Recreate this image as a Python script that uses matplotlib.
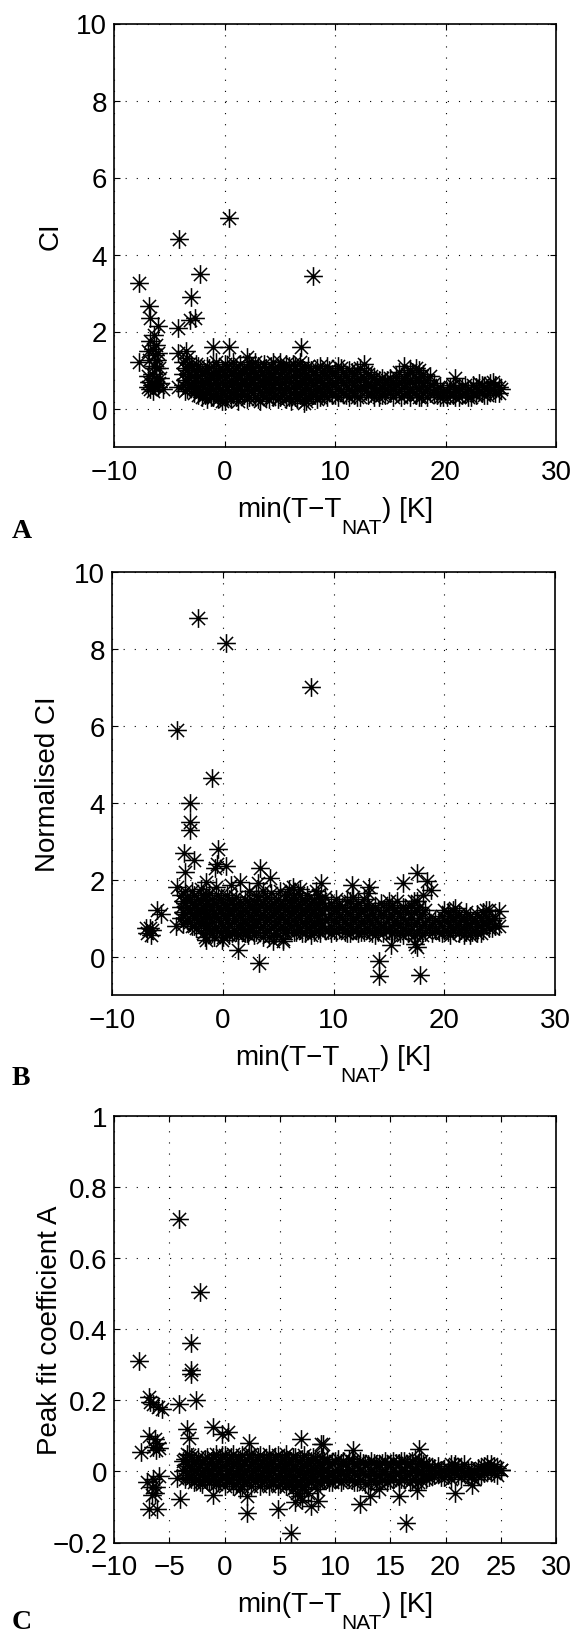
import matplotlib
matplotlib.use('Agg')
import matplotlib.pyplot as plt
from matplotlib.path import Path

plt.rcParams['font.family'] = ['Liberation Sans', 'DejaVu Sans']

# ---------------- data ----------------
# Panel A : CI
a_x = [-7.7, -7.7, -6.8, -6.7, -6.0, -6.7, -6.5, -6.2, -6.3, -6.1, -5.9, -6.4, -6.6, -6.8, -6.7,
       -6.5, -6.3, -6.0, -5.6, -6.2, -6.6, -6.9, -6.9, -6.4, -6.0, -5.8, -6.9, -6.2, -5.9, -6.8,
       -4.1, 0.4, 8.0, -2.2, -3.0, -3.1, -2.7, -4.2, -3.5, -4.2, -1.0, 0.4, 6.9, 2.0, -4.2]
a_y = [3.25, 1.2, 2.65, 2.35, 2.15, 1.75, 1.55, 1.65, 1.4, 1.25, 1.05, 1.1, 0.9, 0.7, 0.5,
       0.45, 0.6, 0.55, 0.5, 0.8, 0.6, 0.55, 1.5, 1.9, 1.45, 0.8, 0.85, 1.05, 0.65, 1.25,
       4.4, 4.95, 3.45, 3.5, 2.9, 2.3, 2.35, 2.1, 1.5, 1.45, 1.6, 1.6, 1.6, 1.35, 0.55]
a_band_x = [-3.8, -3.4, -3.0, -2.6, -2.2, -1.8, -1.4, -1.0, -0.6, -0.2, 0.2, 0.6, 1.0, 1.4, 1.8,
            2.2, 2.6, 3.0, 3.4, 3.8, 4.2, 4.6, 5.0, 5.4, 5.8, 6.2, 6.6, 7.0, 7.4, 7.8, 8.2, 8.6,
            9.0, 9.5, 10.0, 10.5, 11.0, 11.5, 12.0, 12.6, 13.0, 13.5, 14.0, 14.5, 15.0, 15.5,
            16.2, 16.5, 17.0, 17.6, 18.0, 18.6, 19.2, 19.8, 20.4, 20.9, 21.5, 22.0, 22.5, 23.0,
            23.5, 24.0, 24.5, 25.0]
a_band_y = [[1.2, 0.9, 0.6], [1.3, 1.0, 0.7, 0.5], [1.1, 0.85, 0.55], [1.15, 0.8, 0.5],
            [1.0, 0.7, 0.45], [0.95, 0.65, 0.35], [1.05, 0.75, 0.4], [1.1, 0.8, 0.5, 0.3],
            [0.95, 0.6, 0.25], [1.0, 0.7, 0.4, 0.2], [1.1, 0.85, 0.55, 0.3], [0.9, 0.6, 0.25],
            [1.05, 0.75, 0.45, 0.3], [1.15, 0.8, 0.5], [0.95, 0.65, 0.35], [1.2, 0.9, 0.6, 0.3],
            [1.0, 0.7, 0.4], [1.1, 0.85, 0.55, 0.25], [0.95, 0.65, 0.35], [1.05, 0.75, 0.45, 0.3],
            [1.1, 0.8, 0.5], [1.0, 0.7, 0.35], [1.2, 0.9, 0.6, 0.3], [1.0, 0.7, 0.4],
            [1.1, 0.8, 0.5, 0.3], [1.15, 0.85, 0.55], [1.0, 0.7, 0.4, 0.25], [1.05, 0.75, 0.45],
            [0.9, 0.6, 0.3, 0.2], [1.0, 0.7, 0.4], [0.95, 0.65, 0.35], [1.1, 0.8, 0.5, 0.3],
            [0.9, 0.6, 0.35], [1.0, 0.7, 0.45], [0.95, 0.65, 0.35], [1.05, 0.75, 0.45],
            [0.85, 0.6, 0.35], [0.95, 0.7, 0.45], [1.0, 0.75, 0.5, 0.3], [1.15, 0.8, 0.55],
            [0.9, 0.6, 0.35], [0.8, 0.55, 0.3], [0.75, 0.5, 0.3], [0.7, 0.5, 0.35],
            [0.8, 0.6, 0.4], [0.85, 0.6, 0.4], [1.1, 0.8, 0.55, 0.35], [0.9, 0.65, 0.4],
            [0.95, 0.7, 0.45], [1.0, 0.75, 0.5, 0.3], [0.9, 0.65, 0.4], [0.85, 0.6, 0.4],
            [0.5, 0.35], [0.45, 0.3], [0.55, 0.35], [0.8, 0.5, 0.3], [0.55, 0.35], [0.5, 0.3],
            [0.6, 0.4], [0.65, 0.45], [0.55, 0.35], [0.65, 0.45], [0.6, 0.4], [0.5]]
a_band2_x = [-3.6, -3.2, -2.8, -2.4, -2.0, -1.6, -1.2, -0.8, -0.4, 0.0, 0.4, 0.8, 1.2, 1.6, 2.0,
             2.4, 2.8, 3.2, 3.6, 4.0, 4.4, 4.8, 5.2, 5.6, 6.0, 6.4, 6.8, 7.2, 7.6, 8.0, 8.4, 8.8,
             9.25, 9.75, 10.25, 10.75, 11.25, 11.75, 12.3, 12.8, 13.25, 13.75, 14.25, 14.75,
             15.25, 15.75, 16.0, 16.75, 17.3, 17.8, 18.3, 19.0, 19.5, 20.1, 20.7, 21.2, 21.8,
             22.3, 22.8, 23.3, 23.8, 24.3, 24.8]
a_band2_y = [[1.05, 0.75, 0.45], [1.15, 0.9, 0.6], [1.0, 0.7, 0.4], [1.1, 0.85, 0.55, 0.35],
             [0.9, 0.6, 0.3], [1.1, 0.8, 0.5, 0.25], [0.9, 0.6, 0.3], [1.2, 0.95, 0.65, 0.4],
             [0.85, 0.5, 0.3], [1.15, 0.9, 0.6, 0.35, 0.2], [1.0, 0.7, 0.45],
             [1.2, 0.95, 0.65, 0.4], [0.9, 0.6, 0.35, 0.2], [1.0, 0.7, 0.4],
             [1.05, 0.8, 0.5, 0.25], [1.1, 0.75, 0.45], [1.2, 0.9, 0.6, 0.3],
             [1.0, 0.7, 0.45, 0.2], [1.15, 0.85, 0.55], [0.95, 0.65, 0.4, 0.25],
             [1.2, 0.9, 0.6, 0.3], [1.05, 0.8, 0.5, 0.25], [0.95, 0.65, 0.35],
             [1.15, 0.85, 0.55, 0.25], [1.0, 0.7, 0.4, 0.2], [1.1, 0.8, 0.5, 0.3],
             [1.2, 0.9, 0.6, 0.35], [1.0, 0.7, 0.4, 0.15], [1.1, 0.8, 0.5, 0.3], [0.9, 0.6, 0.35],
             [1.05, 0.75, 0.45, 0.25], [0.95, 0.65, 0.4], [1.1, 0.85, 0.55, 0.3], [0.9, 0.6, 0.35],
             [1.1, 0.8, 0.5, 0.3], [0.95, 0.7, 0.4], [1.0, 0.75, 0.5, 0.3], [0.9, 0.6, 0.35],
             [1.05, 0.8, 0.55, 0.3], [0.95, 0.7, 0.45], [0.85, 0.6, 0.4], [0.7, 0.45],
             [0.8, 0.55, 0.35], [0.75, 0.5], [0.7, 0.5, 0.3], [0.95, 0.7, 0.45], [0.65, 0.3],
             [1.0, 0.75, 0.5, 0.3], [1.05, 0.8, 0.55, 0.35], [0.85, 0.55, 0.3], [0.75, 0.5, 0.3],
             [0.65, 0.4], [0.55, 0.3], [0.45, 0.3], [0.6, 0.35], [0.5, 0.3], [0.6, 0.4],
             [0.45, 0.3], [0.55, 0.35], [0.6, 0.4], [0.5, 0.35], [0.7, 0.5], [0.55, 0.4]]

# Panel B : Normalised CI
b_x = [-2.2, 0.3, 8.0, -4.1, -1.0, -3.0, -3.0, -3.0, -3.5, -2.6, -0.4, -0.5, 0.3, -0.7, 3.4,
       4.3, 1.6, -1.5, -3.4, -4.1, 8.9, 11.7, 13.2, 13.1, 16.3, 17.5, 18.4, 18.8, 15.0, 17.5,
       18.1, 14.1, 14.1, 17.8, 17.5, 17.4, 15.2, 3.3, 1.4, -1.5, -0.1, -4.2, -5.9, -5.6, -6.8,
       -6.6, -6.4, -6.9, -6.5, 23.8, 24.9, 24.9, 6.3, 7.0, 0.7, 4.5, 5.4, 2.3]
b_y = [8.8, 8.15, 7.02, 5.9, 4.65, 3.98, 3.5, 3.3, 2.7, 2.5, 2.8, 2.4, 2.35, 2.3, 2.3,
       2.05, 1.95, 1.95, 2.2, 1.8, 1.92, 1.87, 1.8, 1.65, 1.9, 2.18, 1.96, 1.74, 1.45, 1.44,
       1.6, -0.12, -0.5, -0.47, 0.25, 0.32, 0.3, -0.16, 0.18, 0.44, 0.44, 0.8, 1.2, 1.1, 0.6,
       0.75, 0.7, 0.75, 0.55, 1.22, 1.18, 0.79, 1.8, 1.75, 1.85, 0.4, 0.4, 0.55]
b_band_x = [-3.8, -3.4, -3.0, -2.6, -2.2, -1.8, -1.4, -1.0, -0.6, -0.2, 0.2, 0.6, 1.0, 1.4, 1.8,
            2.2, 2.6, 3.0, 3.4, 3.8, 4.2, 4.6, 5.0, 5.4, 5.8, 6.2, 6.6, 7.0, 7.4, 7.8, 8.2, 8.6,
            9.0, 9.5, 10.0, 10.5, 11.0, 11.5, 12.0, 12.5, 13.0, 13.5, 14.0, 14.5, 15.0, 15.5,
            16.0, 16.5, 17.0, 17.5, 18.0, 18.6, 19.2, 19.8, 20.3, 20.8, 21.3, 21.8, 22.3, 22.8,
            23.3, 23.8, 24.3]
b_band_y = [[1.6, 1.3, 1.0], [1.7, 1.4, 1.1], [1.5, 1.2, 0.9], [1.6, 1.3, 1.0, 0.8],
            [1.5, 1.2, 0.9], [1.6, 1.3, 1.0, 0.6], [1.4, 1.1, 0.8], [1.5, 1.2, 0.9, 0.6],
            [1.8, 1.4, 1.1, 0.7], [1.5, 1.2, 0.9, 0.6], [1.3, 1.0, 0.7], [1.5, 1.2, 0.85, 0.55],
            [1.3, 1.0, 0.7], [1.4, 1.1, 0.8, 0.55], [1.2, 0.9, 0.65], [1.45, 1.15, 0.85, 0.6],
            [1.3, 1.0, 0.7], [1.6, 1.25, 0.95, 0.65], [1.35, 1.05, 0.75], [1.5, 1.2, 0.9, 0.6],
            [1.3, 1.0, 0.5], [1.4, 1.1, 0.8, 0.55], [1.5, 1.2, 0.9], [1.3, 1.0, 0.7, 0.45],
            [1.6, 1.25, 0.95, 0.7], [1.4, 1.1, 0.8], [1.5, 1.2, 0.9, 0.65], [1.3, 1.0, 0.7],
            [1.45, 1.15, 0.85, 0.6], [1.35, 1.05, 0.75], [1.5, 1.2, 0.9, 0.65], [1.6, 1.3, 1.0, 0.7],
            [1.4, 1.1, 0.8], [1.3, 1.0, 0.7], [1.25, 0.95, 0.7], [1.35, 1.05, 0.75],
            [1.2, 0.9, 0.65], [1.45, 1.1, 0.8, 0.6], [1.3, 1.0, 0.7], [1.2, 0.9, 0.65],
            [1.35, 1.05, 0.75], [1.1, 0.85, 0.6], [1.2, 0.9, 0.65], [1.1, 0.8, 0.6],
            [1.3, 1.0, 0.7], [1.2, 0.9, 0.65], [1.1, 0.85, 0.6], [1.25, 0.95, 0.7],
            [1.35, 1.0, 0.7], [1.2, 0.9, 0.6], [1.1, 0.8, 0.55], [1.0, 0.75], [0.95, 0.7],
            [1.05, 0.8, 0.6], [1.15, 0.9, 0.65], [1.2, 0.95, 0.7], [1.1, 0.85, 0.6],
            [1.0, 0.75, 0.55], [1.05, 0.8, 0.55], [0.95, 0.7], [1.0, 0.8, 0.6], [1.05, 0.85],
            [0.95, 0.75]]
b_band2_x = [-3.6, -3.2, -2.8, -2.4, -2.0, -1.6, -1.2, -0.8, -0.4, 0.0, 0.4, 0.8, 1.2, 1.6, 2.0,
             2.4, 2.8, 3.2, 3.6, 4.0, 4.4, 4.8, 5.2, 5.6, 6.0, 6.4, 6.8, 7.2, 7.6, 8.0, 8.4, 8.8,
             9.25, 9.75, 10.25, 10.75, 11.25, 11.75, 12.25, 12.75, 13.25, 13.75, 14.25, 14.75,
             15.25, 15.75, 16.25, 16.75, 17.25, 17.75, 18.25, 18.9, 19.5, 20.0, 20.5, 21.0, 21.5,
             22.0, 22.5, 23.0, 23.5, 24.0, 24.6]
b_band2_y = [[1.45, 1.15, 0.85], [1.55, 1.25, 0.95], [1.7, 1.4, 1.1, 0.8], [1.35, 1.05, 0.75],
             [1.75, 1.45, 1.15, 0.85], [1.5, 1.2, 0.9, 0.5], [1.65, 1.35, 1.0, 0.7],
             [1.4, 1.05, 0.75, 0.5], [1.6, 1.3, 1.0], [1.4, 1.1, 0.8, 0.5],
             [1.6, 1.35, 1.05, 0.75], [1.4, 1.1, 0.6], [1.55, 1.25, 0.95, 0.65],
             [1.35, 1.05, 0.75], [1.5, 1.2, 0.9, 0.6], [1.7, 1.35, 1.05, 0.8],
             [1.45, 1.15, 0.85, 0.55], [1.9, 1.5, 1.2, 0.9], [1.7, 1.4, 1.1, 0.8, 0.5],
             [1.55, 1.25, 0.95, 0.7], [1.65, 1.35, 1.05, 0.75], [1.45, 1.15, 0.85, 0.6],
             [1.7, 1.35, 1.05, 0.75], [1.5, 1.2, 0.9, 0.6], [1.75, 1.45, 1.15, 0.85],
             [1.55, 1.25, 0.95, 0.65], [1.65, 1.35, 1.05, 0.8], [1.5, 1.2, 0.9, 0.6],
             [1.6, 1.3, 1.0, 0.75], [1.4, 1.1, 0.8, 0.55], [1.7, 1.4, 1.1, 0.85],
             [1.5, 1.2, 0.9, 0.6], [1.55, 1.25, 0.95, 0.7], [1.4, 1.1, 0.8, 0.6],
             [1.5, 1.2, 0.9, 0.65], [1.3, 1.0, 0.75], [1.45, 1.15, 0.85, 0.6],
             [1.55, 1.25, 0.95, 0.7], [1.4, 1.1, 0.8, 0.6], [1.5, 1.2, 0.9, 0.65],
             [1.25, 0.95, 0.7], [1.3, 1.0, 0.75, 0.55], [1.4, 1.1, 0.8], [1.2, 0.9, 0.7],
             [1.35, 1.05, 0.8, 0.6], [1.45, 1.15, 0.85], [1.3, 1.0, 0.75, 0.55], [1.15, 0.85, 0.6],
             [1.45, 1.15, 0.85, 0.55], [1.3, 1.0, 0.7], [1.2, 0.9, 0.65], [0.85, 0.6], [0.9, 0.65],
             [1.2, 0.95, 0.7], [1.05, 0.8, 0.55], [1.25, 1.0, 0.75], [0.95, 0.7], [1.15, 0.9, 0.65],
             [0.9, 0.65], [1.1, 0.85, 0.6], [1.15, 0.9, 0.7], [1.2, 0.95, 0.75], [1.0, 0.8]]

# Panel C : Peak fit coefficient A
c_x = [-4.1, -2.2, -3.0, -3.0, -3.05, -2.6, -4.1, -7.7, -6.8, -6.7, -6.5, -6.0, -5.7, -6.8,
       -6.1, -5.9, -7.6, -6.2, -3.4, -3.2, -1.0, 0.3, -0.2, -1.0, -4.0, -6.8, -6.1, -7.0, -6.6,
       -6.3, -6.5, -5.9, -4.3, 2.0, 2.0, 4.8, 6.0, 6.9, 8.9, 11.6, 17.6, 20.9, 22.4, 16.4, 15.8,
       12.3, 13.2, 14.0, 17.4, 8.5, 7.8, 7.0, 6.4, 1.4, 2.2, 8.7, 20.9, 25.0, -6.6, -6.2, -6.5,
       -6.3]
c_y = [0.71, 0.505, 0.36, 0.285, 0.275, 0.2, 0.19, 0.31, 0.21, 0.195, 0.19, 0.18, 0.175, 0.1,
       0.08, 0.065, 0.055, 0.06, 0.12, 0.095, 0.125, 0.11, 0.105, -0.065, -0.078, -0.107, -0.107,
       -0.03, -0.045, -0.06, -0.02, -0.012, -0.018, -0.117, -0.07, -0.107, -0.172, 0.09, 0.078,
       0.06, 0.063, -0.062, -0.037, -0.145, -0.068, -0.092, -0.068, -0.05, -0.052, -0.083,
       -0.097, -0.08, -0.085, -0.05, 0.08, 0.077, 0.02, 0.004, -0.065, -0.045, 0.07, 0.09]
c_band_x = [-3.8, -3.4, -3.0, -2.6, -2.2, -1.8, -1.4, -1.0, -0.6, -0.2, 0.2, 0.6, 1.0, 1.4, 1.8,
            2.2, 2.6, 3.0, 3.4, 3.8, 4.2, 4.6, 5.0, 5.4, 5.8, 6.2, 6.6, 7.0, 7.4, 7.8, 8.2, 8.6,
            9.0, 9.5, 10.0, 10.5, 11.0, 11.5, 12.0, 12.5, 13.0, 13.5, 14.0, 14.5, 15.0, 15.5,
            16.0, 16.5, 17.0, 17.5, 18.0, 18.5, 19.0, 19.6, 20.2, 20.8, 21.4, 22.0, 22.6, 23.2,
            23.8, 24.4, 25.0]
c_band_y = [[0.03, 0.0], [0.05, 0.02, -0.01], [0.04, 0.01, -0.02], [0.03, 0.0, -0.025],
            [0.02, -0.01, -0.03], [0.035, 0.005, -0.02], [0.025, -0.005, -0.03], [0.04, 0.01, -0.02],
            [0.03, 0.0, -0.03], [0.045, 0.015, -0.015], [0.03, 0.0, -0.025], [0.04, 0.01, -0.02],
            [0.025, -0.005, -0.035], [0.035, 0.005, -0.02], [0.03, 0.0, -0.03],
            [0.045, 0.015, -0.015], [0.03, 0.0, -0.025], [0.04, 0.01, -0.02],
            [0.025, -0.005, -0.03], [0.035, 0.005, -0.02], [0.03, 0.0, -0.03], [0.04, 0.01, -0.02],
            [0.025, -0.005, -0.035], [0.035, 0.005, -0.02], [0.03, 0.0, -0.03],
            [0.04, 0.01, -0.025, -0.05], [0.03, 0.0, -0.03, -0.06], [0.035, 0.005, -0.02, -0.05],
            [0.025, -0.005, -0.035], [0.03, 0.0, -0.03], [0.035, 0.005, -0.02],
            [0.025, -0.005, -0.03], [0.03, 0.0, -0.025], [0.02, -0.01, -0.03], [0.03, 0.0, -0.02],
            [0.025, -0.005, -0.03], [0.02, -0.01], [0.03, 0.0, -0.025], [0.02, -0.01, -0.03],
            [0.025, -0.005], [0.02, -0.01, -0.035], [0.025, -0.005], [0.02, -0.01, -0.03],
            [0.03, 0.0], [0.02, -0.01, -0.025], [0.025, -0.005], [0.03, 0.0, -0.02], [0.02, -0.01],
            [0.03, 0.0, -0.025], [0.025, -0.005, -0.03], [0.02, -0.01], [0.015, -0.015],
            [0.01, -0.01], [0.005, -0.015], [0.01, -0.01], [0.015, -0.005], [0.01, -0.015],
            [0.005, -0.01], [0.0, -0.02], [0.01, -0.01], [0.02, 0.0], [0.015, -0.005], [0.005]]
c_band2_x = [-3.6, -3.2, -2.8, -2.4, -2.0, -1.6, -1.2, -0.8, -0.4, 0.0, 0.4, 0.8, 1.2, 1.6, 2.0,
             2.4, 2.8, 3.2, 3.6, 4.0, 4.4, 4.8, 5.2, 5.6, 6.0, 6.4, 6.8, 7.2, 7.6, 8.0, 8.4, 8.8,
             9.25, 9.75, 10.25, 10.75, 11.25, 11.75, 12.25, 12.75, 13.25, 13.75, 14.25, 14.75,
             15.25, 15.75, 16.25, 16.75, 17.25, 17.75, 18.25, 18.75, 19.3, 19.9, 20.5, 21.1, 21.7,
             22.3, 22.9, 23.5, 24.1, 24.7]
c_band2_y = [[0.035, 0.005, -0.02], [0.045, 0.015, -0.015], [0.03, 0.0, -0.03],
             [0.04, 0.01, -0.02], [0.025, -0.005, -0.035], [0.04, 0.01, -0.02],
             [0.03, 0.0, -0.025], [0.05, 0.02, -0.01, -0.035], [0.035, 0.005, -0.025],
             [0.045, 0.015, -0.015, -0.04], [0.035, 0.005, -0.025], [0.05, 0.02, -0.01, -0.04],
             [0.03, 0.0, -0.03], [0.045, 0.015, -0.015, -0.04], [0.035, 0.005, -0.025],
             [0.05, 0.02, -0.01, -0.04], [0.03, 0.0, -0.03], [0.045, 0.015, -0.015, -0.04],
             [0.035, 0.005, -0.025], [0.05, 0.02, -0.01, -0.04], [0.03, 0.0, -0.03],
             [0.045, 0.015, -0.015, -0.04], [0.035, 0.005, -0.025], [0.05, 0.02, -0.01, -0.04],
             [0.03, 0.0, -0.03], [0.04, 0.01, -0.02, -0.045], [0.03, 0.0, -0.035, -0.07],
             [0.045, 0.015, -0.015, -0.045], [0.035, 0.005, -0.025, -0.06], [0.04, 0.01, -0.02],
             [0.03, 0.0, -0.03, -0.05], [0.04, 0.01, -0.02], [0.035, 0.005, -0.02],
             [0.025, -0.005, -0.03], [0.035, 0.005, -0.02], [0.03, 0.0, -0.025],
             [0.035, 0.005, -0.02], [0.025, -0.005, -0.03], [0.03, 0.0, -0.025],
             [0.02, -0.01, -0.035], [0.03, 0.0, -0.025], [0.02, -0.01, -0.03],
             [0.025, -0.005, -0.025], [0.02, -0.01, -0.03], [0.03, 0.0, -0.02],
             [0.025, -0.005, -0.03], [0.03, 0.0, -0.02], [0.025, -0.005, -0.03],
             [0.035, 0.005, -0.02], [0.03, 0.0, -0.025], [0.02, -0.01, -0.02], [0.01, -0.01],
             [0.015, -0.005], [0.005, -0.015], [0.02, 0.0, -0.02], [0.01, -0.01], [0.02, -0.005],
             [0.005, -0.015], [0.01, -0.01], [0.015, -0.005], [0.02, 0.0], [0.01, -0.01]]

xticks_ab = [-10, 0, 10, 20, 30]
xticks_c = [-10, -5, 0, 5, 10, 15, 20, 25, 30]
yticks_ab = [0, 2, 4, 6, 8, 10]
yticks_c = [-0.2, 0, 0.2, 0.4, 0.6, 0.8, 1.0]
yticklabels_c = ['\u22120.2', '0', '0.2', '0.4', '0.6', '0.8', '1']
ylabels = ['CI', 'Normalised CI', 'Peak fit coefficient A']
xlabel_parts = ['min(T\u2212T', 'NAT', ') [K]']
letters = ['A', 'B', 'C']

# ---------------- drawing ----------------
W, H = 575, 1633
fig = plt.figure(figsize=(W / 100, H / 100), dpi=100)

d = 0.7
star = Path([(-1, 0), (1, 0), (0, -1), (0, 1), (-d, -d), (d, d), (-d, d), (d, -d)],
            [Path.MOVETO, Path.LINETO] * 4)


def expand(bx, by):
    xs, ys = [], []
    for x, col in zip(bx, by):
        for y in col:
            xs.append(x)
            ys.append(y)
    return xs, ys


def make_axes(left, top, right, bottom):
    return fig.add_axes([left / W, 1 - bottom / H, (right - left) / W, (bottom - top) / H])


boxes = [(114, 24.5, 556, 448), (112, 573, 555, 996), (114, 1117, 556, 1543.5)]
panels = [(a_x, a_y, a_band_x, a_band_y, a_band2_x, a_band2_y),
          (b_x, b_y, b_band_x, b_band_y, b_band2_x, b_band2_y),
          (c_x, c_y, c_band_x, c_band_y, c_band2_x, c_band2_y)]
letter_base = [538, 1085, 1629]
label_parts = []

for i, (box, (px, py, bx, by, bx2, by2)) in enumerate(zip(boxes, panels)):
    ax = make_axes(*box)
    hpx = box[3] - box[1]
    ex, ey = expand(bx, by)
    ex2, ey2 = expand(bx2, by2)
    ax.plot(ex + ex2 + px, ey + ey2 + py, linestyle='none', marker=star, markersize=13.5,
            markeredgecolor='k', markerfacecolor='none', markeredgewidth=1.1, zorder=3)
    ax.set_xlim(-10, 30)
    if i < 2:
        ax.set_ylim(-1, 10)
        ax.set_xticks(xticks_ab)
        ax.set_xticklabels(['\u221210', '0', '10', '20', '30'])
        ax.set_yticks(yticks_ab)
        ax.set_yticklabels([str(v) for v in yticks_ab])
    else:
        ax.set_ylim(-0.2, 1.0)
        ax.set_xticks(xticks_c)
        ax.set_xticklabels([('\u2212' + str(-v)) if v < 0 else str(v) for v in xticks_c])
        ax.set_yticks(yticks_c)
        ax.set_yticklabels(yticklabels_c)
    ax.grid(True, color='k', linestyle=(0, (1, 9)), linewidth=0.8)
    ax.tick_params(direction='in', top=True, right=True, length=4, width=0.8,
                   labelsize=20, colors='k')
    ax.tick_params(axis='x', pad=8.5)
    ax.tick_params(axis='y', pad=5)
    for s in ax.spines.values():
        s.set_linewidth(1.2)
    ax.set_ylabel(ylabels[i], fontsize=20)
    ax.yaxis.set_label_coords(-0.115, 0.5)

    # x label built from pieces so that the subscript sits low like the original
    t1 = ax.text(0.3, -69 / hpx, xlabel_parts[0], transform=ax.transAxes, fontsize=20,
                 ha='left', va='baseline')
    t2 = ax.annotate(xlabel_parts[1], xy=(1, 0), xycoords=t1, xytext=(0, -7.6),
                     textcoords='offset points', fontsize=15, ha='left', va='baseline')
    t3 = ax.annotate(xlabel_parts[2], xy=(1, 0), xycoords=(t2, t1), fontsize=20,
                     ha='left', va='bottom')
    label_parts.append((ax, t1, t2, t3, hpx))

    fig.text(12 / W, 1 - letter_base[i] / H, letters[i], family=['Liberation Serif', 'DejaVu Serif'],
             fontweight='bold', fontsize=20, ha='left', va='baseline')

# center the composed x labels under their axes
fig.canvas.draw()
for ax, t1, t2, t3, hpx in label_parts:
    b1 = t1.get_window_extent()
    b3 = t3.get_window_extent()
    width = b3.x1 - b1.x0
    axb = ax.get_window_extent()
    left_px = (axb.x0 + axb.x1) / 2 - width / 2
    xa = (left_px - axb.x0) / axb.width
    t1.set_x(xa)

fig.savefig('out.png', dpi=100)
